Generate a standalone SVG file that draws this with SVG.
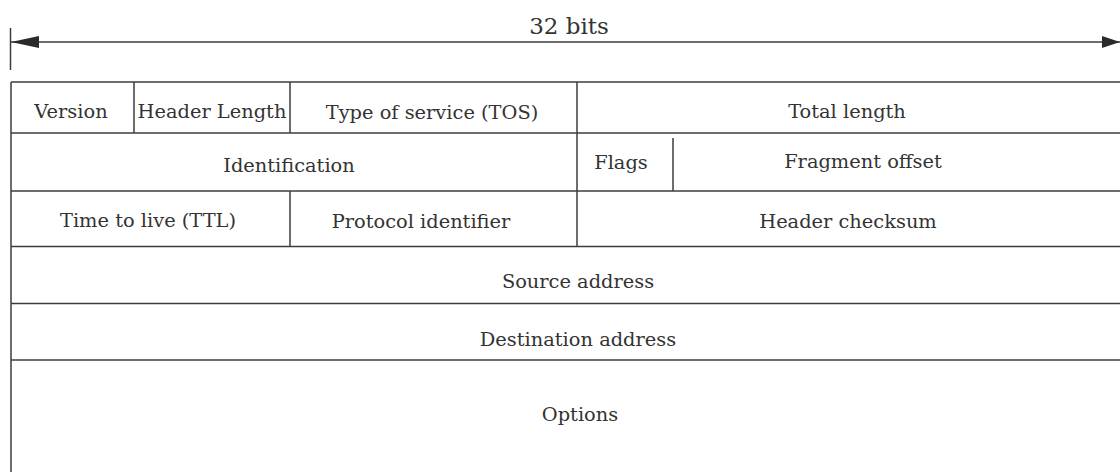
<svg xmlns="http://www.w3.org/2000/svg" width="1120" height="472" viewBox="0 0 1120 472">
  <style>
    .grid { stroke: #3c3c3c; stroke-width: 1.5; fill: none; }
    .lbl { font-family: "DejaVu Serif", "Liberation Serif", serif; font-size: 19.4px; fill: #333333; text-anchor: middle; }
    .dim { font-family: "DejaVu Serif", "Liberation Serif", serif; font-size: 23px; fill: #333333; text-anchor: middle; }
  </style>
  <defs>
    <marker id="headL" viewBox="0 0 28 12" refX="0" refY="6" markerWidth="28" markerHeight="12" markerUnits="userSpaceOnUse" orient="auto">
      <path d="M0,6 L28,0 L28,12 Z" fill="#2a2a2a"/>
    </marker>
    <marker id="headR" viewBox="0 0 18 12" refX="18" refY="6" markerWidth="18" markerHeight="12" markerUnits="userSpaceOnUse" orient="auto">
      <path d="M18,6 L0,0 L0,12 Z" fill="#2a2a2a"/>
    </marker>
  </defs>
  <rect width="1120" height="472" fill="#ffffff"/>

  <!-- width dimension: 32 bits -->
  <g id="connectors">
    <line class="grid" x1="10.5" y1="28" x2="10.5" y2="70"/>
    <line class="grid" x1="11" y1="42" x2="1120" y2="42" marker-start="url(#headL)" marker-end="url(#headR)"/>
  </g>
  <text class="dim" x="569" y="34">32 bits</text>

  <!-- header grid -->
  <g id="grid">
    <line class="grid" x1="11" y1="82" x2="1120" y2="82"/>
    <line class="grid" x1="11" y1="133" x2="1120" y2="133"/>
    <line class="grid" x1="11" y1="191" x2="1120" y2="191"/>
    <line class="grid" x1="11" y1="246.5" x2="1120" y2="246.5"/>
    <line class="grid" x1="11" y1="303.5" x2="1120" y2="303.5"/>
    <line class="grid" x1="11" y1="360" x2="1120" y2="360"/>
    <line class="grid" x1="11" y1="82" x2="11" y2="472"/>
    <line class="grid" x1="134" y1="82" x2="134" y2="133"/>
    <line class="grid" x1="290" y1="82" x2="290" y2="133"/>
    <line class="grid" x1="290" y1="191" x2="290" y2="246.5"/>
    <line class="grid" x1="577" y1="82" x2="577" y2="246.5"/>
    <line class="grid" x1="673" y1="138" x2="673" y2="191"/>
  </g>

  <g id="version"><text class="lbl" x="71" y="118">Version</text></g>
  <g id="header-length"><text class="lbl" x="212" y="118">Header Length</text></g>
  <g id="tos"><text class="lbl" x="432" y="119">Type of service (TOS)</text></g>
  <g id="total-length"><text class="lbl" x="847" y="118">Total length</text></g>

  <g id="identification"><text class="lbl" x="289" y="172">Identification</text></g>
  <g id="flags"><text class="lbl" x="621" y="169">Flags</text></g>
  <g id="fragment-offset"><text class="lbl" x="863" y="168">Fragment offset</text></g>

  <g id="ttl"><text class="lbl" x="148" y="227">Time to live (TTL)</text></g>
  <g id="protocol"><text class="lbl" x="421" y="228">Protocol identifier</text></g>
  <g id="header-checksum"><text class="lbl" x="848" y="228">Header checksum</text></g>

  <g id="source-address"><text class="lbl" x="578" y="288">Source address</text></g>
  <g id="destination-address"><text class="lbl" x="578" y="346">Destination address</text></g>
  <g id="options"><text class="lbl" x="580" y="421">Options</text></g>
</svg>
